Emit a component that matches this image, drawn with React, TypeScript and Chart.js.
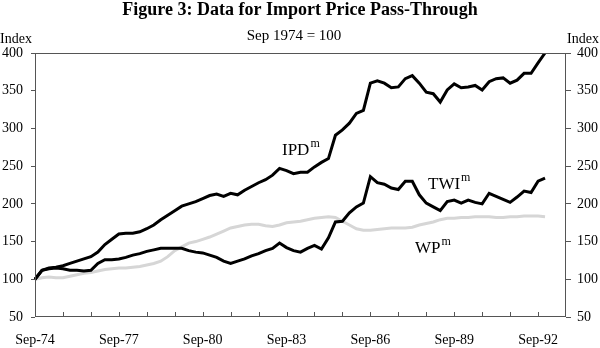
import React, { useEffect, useRef } from "react";
import { Chart, registerables } from "chart.js";
Chart.register(...registerables);

const quarterMonths = ["Sep", "Dec", "Mar", "Jun"];
const quarterCount = 77; // Sep-74 .. Sep-93
const categories: string[] = Array.from({ length: quarterCount }, (_, i) => {
  const yr = 74 + Math.floor((i + 2) / 4);
  return `${quarterMonths[i % 4]}-${String(yr % 100).padStart(2, "0")}`;
});
const tickLabels = ["Sep-74", "Sep-77", "Sep-80", "Sep-83", "Sep-86", "Sep-89", "Sep-92"];
const yTicks = [50, 100, 150, 200, 250, 300, 350, 400];

const ipd = [
  100, 112, 115, 116, 118, 121, 124, 127, 130, 136, 146, 153, 160, 161, 161, 163, 167, 172, 179, 185,
  191, 197, 200, 203, 207, 211, 213, 210, 214, 212, 218, 223, 228, 232, 238, 247, 244, 240, 242, 242,
  249, 255, 260, 291, 298, 307, 320, 324, 360, 363, 360, 354, 355, 366, 370, 360, 348, 346, 335, 351,
  359, 354, 355, 357, 351, 362, 366, 367, 360, 364, 373, 373, 387, 400,
];
const twi = [
  100, 112, 114, 115, 114, 112, 112, 111, 112, 121, 126, 126, 127, 129, 132, 134, 137, 139, 141, 141,
  141, 141, 138, 136, 135, 132, 129, 124, 121, 124, 127, 131, 134, 138, 141, 148, 142, 138, 136, 141,
  145, 140, 155, 176, 177, 188, 196, 201, 236, 228, 226, 221, 219, 230, 230, 212, 201, 196, 191, 203,
  205, 201, 205, 202, 200, 214, 210, 206, 202, 209, 217, 215, 230, 234,
];
const wp = [
  100, 102, 103, 102, 102, 104, 106, 108, 109, 111, 113, 114, 115, 115, 116, 117, 119, 121, 124, 130,
  138, 143, 148, 150, 153, 156, 160, 164, 168, 170, 172, 173, 173, 171, 170, 172, 175, 176, 177, 179,
  181, 182, 183, 182, 177, 172, 167, 165, 165, 166, 167, 168, 168, 168, 169, 172, 174, 176, 179, 181,
  181, 182, 182, 183, 183, 183, 182, 182, 183, 183, 184, 184, 184, 183,
];

const SERIF = '"Liberation Serif", "Times New Roman", serif';
const FRAME = "#555555";

const textPlugin = {
  id: "figureText",
  afterDraw(chart: any) {
    const ctx = chart.ctx;
    const { left, right, top, bottom } = chart.chartArea;
    ctx.save();
    // frame
    ctx.strokeStyle = FRAME;
    ctx.lineWidth = 1;
    ctx.strokeRect(Math.round(left) + 0.5, Math.round(top) + 0.5, Math.round(right - left) - 1, Math.round(bottom - top) - 1);
    // inward x ticks every year
    const xs = chart.scales.x;
    ctx.beginPath();
    for (let i = 4; i < quarterCount - 1; i += 4) {
      const px = Math.round(xs.getPixelForValue(i)) + 0.5;
      ctx.moveTo(px, bottom);
      ctx.lineTo(px, bottom - 5);
    }
    ctx.stroke();

    ctx.fillStyle = "#000";
    ctx.textBaseline = "alphabetic";
    ctx.font = `bold 18px ${SERIF}`;
    ctx.textAlign = "center";
    ctx.fillText("Figure 3: Data for Import Price Pass-Through", 300, 15);
    ctx.font = `15px ${SERIF}`;
    ctx.fillText("Sep 1974 = 100", 294, 40);
    ctx.font = `14px ${SERIF}`;
    ctx.textAlign = "left";
    ctx.fillText("Index", 0, 43);
    ctx.textAlign = "right";
    ctx.fillText("Index", 599, 43);

    const label = (t: string, x: number, y: number) => {
      ctx.textAlign = "left";
      ctx.font = `17px ${SERIF}`;
      ctx.fillText(t, x, y);
      const w = ctx.measureText(t).width;
      ctx.font = `12px ${SERIF}`;
      ctx.fillText("m", x + w + 1, y - 8);
    };
    label("IPD", 282, 155);
    label("TWI", 428, 189);
    label("WP", 415, 253);
    ctx.restore();
  },
};

export default function App() {
  const ref = useRef<HTMLCanvasElement | null>(null);
  useEffect(() => {
    document.body.style.margin = "0";
    const canvas = ref.current!;
    const tickFont = { family: SERIF, size: 14 };
    const yAxis = (position: "left" | "right") => ({
      type: "linear" as const,
      position,
      min: 50,
      max: 400,
      afterBuildTicks: (s: any) => {
        s.ticks = yTicks.map((v) => ({ value: v }));
      },
      afterFit: (s: any) => {
        s.width = position === "left" ? 35 : 34;
      },
      grid: { drawOnChartArea: false, drawTicks: true, tickLength: position === "left" ? 4 : 5, color: FRAME },
      border: { display: false },
      ticks: { color: "#000", font: tickFont, padding: position === "left" ? 8 : 6 },
    });
    const chart = new Chart(canvas, {
      type: "line",
      data: {
        labels: categories,
        datasets: [
          { label: "IPD", data: ipd, borderColor: "#000", borderWidth: 3, pointRadius: 0, tension: 0, yAxisID: "y" },
          { label: "TWI", data: twi, borderColor: "#000", borderWidth: 3, pointRadius: 0, tension: 0, yAxisID: "y" },
          { label: "WP", data: wp, borderColor: "#d6d6d6", borderWidth: 3, pointRadius: 0, tension: 0, yAxisID: "y" },
        ],
      },
      options: {
        animation: false,
        responsive: false,
        maintainAspectRatio: false,
        layout: { padding: { top: 53, left: 0, right: 0, bottom: 0 } },
        plugins: { legend: { display: false }, title: { display: false }, tooltip: { enabled: false } },
        scales: {
          x: {
            type: "category",
            offset: false,
            afterFit: (s: any) => {
              s.height = 31;
            },
            grid: { display: true, drawOnChartArea: false, drawTicks: false, color: "transparent" },
            border: { display: false },
            ticks: {
              autoSkip: false,
              maxRotation: 0,
              color: "#000",
              font: tickFont,
              padding: 15,
              callback: (_v: any, i: number) => (tickLabels.includes(categories[i]) ? categories[i] : ""),
            },
          },
          y: yAxis("left"),
          y2: yAxis("right"),
        },
      },
      plugins: [textPlugin],
    });
    return () => chart.destroy();
  }, []);
  return <canvas ref={ref} width={600} height={348} style={{ display: "block", width: 600, height: 348 }} />;
}
